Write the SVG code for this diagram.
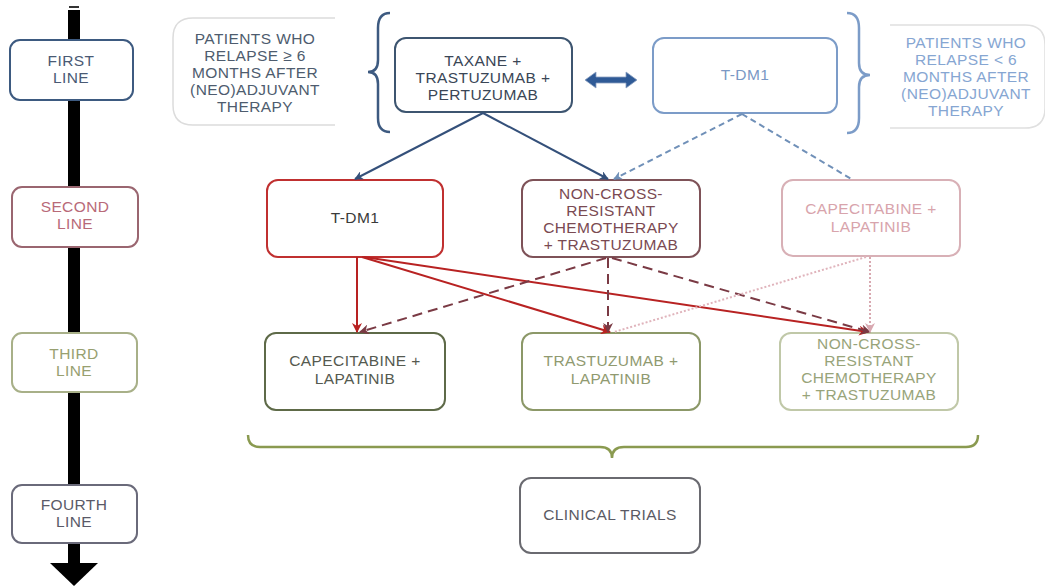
<svg xmlns="http://www.w3.org/2000/svg" width="1045" height="586" viewBox="0 0 1045 586">
<style>
text{font-family:"Liberation Sans",Arial,sans-serif;font-size:15.5px;letter-spacing:0.4px;text-anchor:middle}
.box{fill:#fff;stroke-width:2}
.c{fill:none;stroke-width:2}
</style>
<defs>
<marker id="ab" viewBox="0 0 10 10" refX="9" refY="5" markerWidth="9" markerHeight="9" markerUnits="userSpaceOnUse" orient="auto"><path d="M0,0 L10,5 L0,10 L3,5 Z" fill="#34507a"/></marker>
<marker id="alb" viewBox="0 0 10 10" refX="9" refY="5" markerWidth="9" markerHeight="9" markerUnits="userSpaceOnUse" orient="auto"><path d="M0,0 L10,5 L0,10 L3,5 Z" fill="#7090b8"/></marker>
<marker id="ar" viewBox="0 0 10 10" refX="9" refY="5" markerWidth="10" markerHeight="10" markerUnits="userSpaceOnUse" orient="auto"><path d="M0,0 L10,5 L0,10 L3,5 Z" fill="#b82222"/></marker>
<marker id="abr" viewBox="0 0 10 10" refX="9" refY="5" markerWidth="10" markerHeight="10" markerUnits="userSpaceOnUse" orient="auto"><path d="M0,0 L10,5 L0,10 L3,5 Z" fill="#7a3a44"/></marker>
<marker id="ap" viewBox="0 0 10 10" refX="9" refY="5" markerWidth="10" markerHeight="10" markerUnits="userSpaceOnUse" orient="auto"><path d="M0,0 L10,5 L0,10 L3,5 Z" fill="#d8a8b0"/></marker>
</defs>
<rect width="1045" height="586" fill="#fff"/>

<g id="axis">
<rect x="68" y="10" width="12" height="556" fill="#000"/>
<rect x="69" y="6" width="10" height="2" fill="#333"/>
<path d="M50,563 L98,563 L74,586 Z" fill="#000"/>
</g>

<g id="first-line"><rect class="box" x="10" y="40" width="123" height="60" rx="10" stroke="#3d5a80"/><text fill="#4a5a74" x="71" y="66">FIRST</text><text fill="#4a5a74" x="71" y="83">LINE</text></g>
<g id="second-line"><rect class="box" x="12" y="187" width="126" height="60" rx="10" stroke="#9a6670"/><text fill="#b86a78" x="75" y="212">SECOND</text><text fill="#b86a78" x="75" y="229">LINE</text></g>
<g id="third-line"><rect class="box" x="12" y="333" width="125" height="59" rx="10" stroke="#a8b088"/><text fill="#98a070" x="74" y="359">THIRD</text><text fill="#98a070" x="74" y="376">LINE</text></g>
<g id="fourth-line"><rect class="box" x="12" y="485" width="125" height="58" rx="10" stroke="#6a6a7a"/><text fill="#5a5a68" x="74" y="510">FOURTH</text><text fill="#5a5a68" x="74" y="527">LINE</text></g>

<g id="patients-left">
<path d="M335,18 L193,18 Q173,18 173,38 L173,105 Q173,125 193,125 L335,125" fill="none" stroke="#dcdcdc" stroke-width="1.5"/>
<text fill="#4e5c6e" x="255" y="44">PATIENTS WHO</text>
<text fill="#4e5c6e" x="255" y="61">RELAPSE ≥ 6</text>
<text fill="#4e5c6e" x="255" y="78">MONTHS AFTER</text>
<text fill="#4e5c6e" x="255" y="95">(NEO)ADJUVANT</text>
<text fill="#4e5c6e" x="255" y="112">THERAPY</text>
</g>
<g id="bracket-left"><path d="M390,13 Q378,13 378,28 L378,60 Q378,72 368,72 Q378,72 378,84 L378,118 Q378,132 390,132" fill="none" stroke="#3d5a80" stroke-width="2.5"/></g>

<g id="taxane"><rect class="box" x="395" y="38" width="177" height="74" rx="11" stroke="#3d5570"/>
<text fill="#3a4656" x="483" y="66">TAXANE +</text><text fill="#3a4656" x="483" y="83">TRASTUZUMAB +</text><text fill="#3a4656" x="483" y="100">PERTUZUMAB</text></g>

<g id="double-arrow"><path d="M585,80 L596,72 L596,77 L626,77 L626,72 L637,80 L626,88 L626,83 L596,83 L596,88 Z" fill="#2f5a96" stroke="#8aa0c0" stroke-width="0.8"/></g>

<g id="tdm1-top"><rect class="box" x="653" y="38" width="184" height="75" rx="11" stroke="#7c9cc8"/><text fill="#7a98c4" x="745" y="80">T-DM1</text></g>

<g id="bracket-right"><path d="M847,13 Q859,13 859,28 L859,63 Q859,75 870,75 Q859,75 859,87 L859,118 Q859,133 847,133" fill="none" stroke="#7c9cc8" stroke-width="2.5"/></g>

<g id="patients-right">
<path d="M890,25 L1025,25 Q1045,25 1045,45 L1045,108 Q1045,128 1025,128 L890,128" fill="none" stroke="#e0e0e0" stroke-width="1.5"/>
<text fill="#86a6d2" x="966" y="48">PATIENTS WHO</text>
<text fill="#86a6d2" x="966" y="65">RELAPSE &lt; 6</text>
<text fill="#86a6d2" x="966" y="82">MONTHS AFTER</text>
<text fill="#86a6d2" x="966" y="99">(NEO)ADJUVANT</text>
<text fill="#86a6d2" x="966" y="116">THERAPY</text>
</g>

<g id="tdm1-second"><rect class="box" x="267" y="180" width="176" height="77" rx="11" stroke="#c03030"/><text fill="#3a3a3a" x="355" y="223">T-DM1</text></g>
<g id="noncross-second"><rect class="box" x="522" y="180" width="178" height="77" rx="11" stroke="#7e5258"/>
<text fill="#7a4a52" x="611" y="199">NON-CROSS-</text><text fill="#7a4a52" x="611" y="216">RESISTANT</text><text fill="#7a4a52" x="611" y="233">CHEMOTHERAPY</text><text fill="#7a4a52" x="611" y="250">+ TRASTUZUMAB</text></g>
<g id="capecitabine-second"><rect class="box" x="782" y="180" width="178" height="76" rx="11" stroke="#d8b0b6"/>
<text fill="#d8a4ac" x="871" y="214">CAPECITABINE +</text><text fill="#d8a4ac" x="871" y="232">LAPATINIB</text></g>

<g id="capecitabine-third"><rect class="box" x="265" y="333" width="180" height="77" rx="11" stroke="#5e6a48"/>
<text fill="#555a50" x="355" y="366">CAPECITABINE +</text><text fill="#555a50" x="355" y="384">LAPATINIB</text></g>
<g id="trastuzumab-third"><rect class="box" x="522" y="333" width="178" height="77" rx="11" stroke="#8c9868"/>
<text fill="#909a70" x="611" y="366">TRASTUZUMAB +</text><text fill="#909a70" x="611" y="384">LAPATINIB</text></g>
<g id="noncross-third"><rect class="box" x="780" y="333" width="178" height="77" rx="11" stroke="#c0c8a8"/>
<text fill="#98a47a" x="869" y="349">NON-CROSS-</text><text fill="#98a47a" x="869" y="366">RESISTANT</text><text fill="#98a47a" x="869" y="383">CHEMOTHERAPY</text><text fill="#98a47a" x="869" y="400">+ TRASTUZUMAB</text></g>

<g id="bracket-bottom"><path d="M248,435 Q248,447 260,447 L600,447 Q612,447 612,458 Q612,447 624,447 L966,447 Q978,447 978,435" fill="none" stroke="#8a9a50" stroke-width="2.5"/></g>

<g id="clinical-trials"><rect class="box" x="520" y="478" width="180" height="75" rx="11" stroke="#6a6a70"/><text fill="#5a5a64" x="610" y="520">CLINICAL TRIALS</text></g>

<g id="connectors">
<path class="c" d="M483,113 L355,179" stroke="#34507a" marker-end="url(#ab)"/>
<path class="c" d="M483,113 L608,179" stroke="#34507a" marker-end="url(#ab)"/>
<path class="c" d="M742,114 L614,179" stroke="#7090b8" stroke-dasharray="6 4" marker-end="url(#alb)"/>
<path class="c" d="M742,114 L853,180" stroke="#7090b8" stroke-dasharray="6 4"/>
<path class="c" d="M357,257 L357,332" stroke="#b82222" marker-end="url(#ar)"/>
<path class="c" d="M362,257 L610,332" stroke="#b82222" marker-end="url(#ar)"/>
<path class="c" d="M364,257 L868,332" stroke="#b82222" marker-end="url(#ar)"/>
<path class="c" d="M606,258 L360,332" stroke="#7a3a44" stroke-width="2.5" stroke-dasharray="10 6" marker-end="url(#abr)"/>
<path class="c" d="M608,258 L608,332" stroke="#7a3a44" stroke-width="2.5" stroke-dasharray="10 6" marker-end="url(#abr)"/>
<path class="c" d="M612,258 L870,332" stroke="#7a3a44" stroke-width="2.5" stroke-dasharray="10 6" marker-end="url(#abr)"/>
<path class="c" d="M866,257 L614,332" stroke="#e0b4bc" stroke-dasharray="2 2"/>
<path class="c" d="M870,257 L870,332" stroke="#d8a8b0" stroke-dasharray="2 2" marker-end="url(#ap)"/>
</g>
</svg>
